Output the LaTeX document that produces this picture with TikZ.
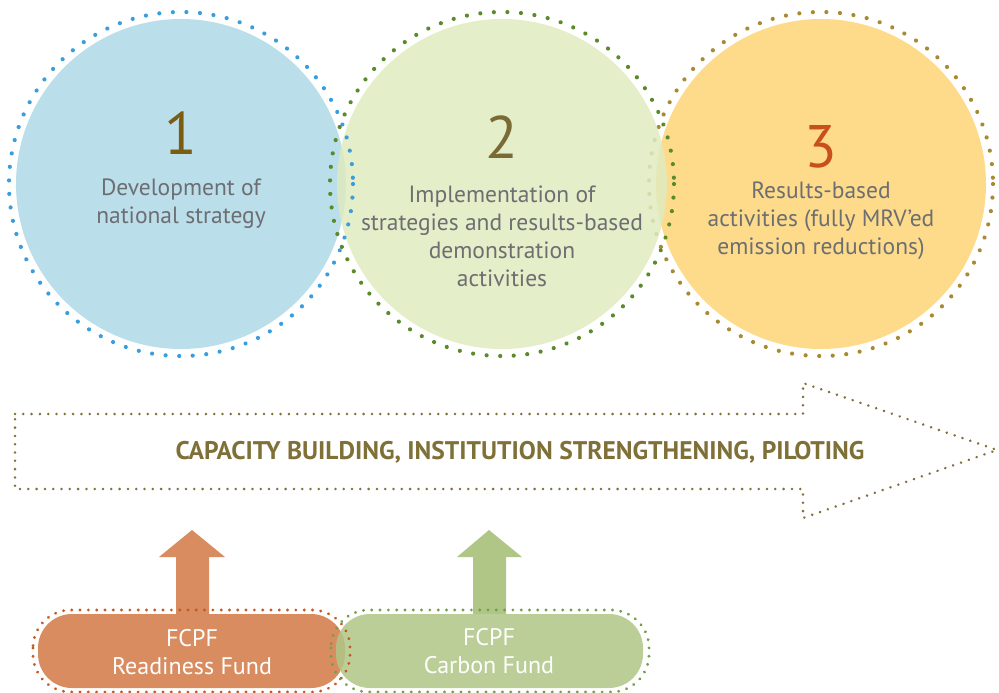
\documentclass[tikz,border=0pt]{standalone}
\usepackage{fontspec}
\setmainfont{PT Sans}
\usetikzlibrary{decorations.markings}
\definecolor{fillA}{HTML}{B7DCEA}
\definecolor{ringA}{HTML}{3A9DDD}
\definecolor{fillB}{HTML}{DFEBBE}
\definecolor{ringB}{HTML}{5A8A2A}
\definecolor{fillC}{HTML}{FDDB8B}
\definecolor{ringC}{HTML}{A88A32}
\definecolor{numA}{HTML}{7A5C12}
\definecolor{numB}{HTML}{7A6A35}
\definecolor{numC}{HTML}{C8501E}
\definecolor{txtgray}{HTML}{6D6E71}
\definecolor{olive}{HTML}{7F7038}
\definecolor{orangeF}{HTML}{D88C60}
\definecolor{orangeD}{HTML}{C4581E}
\definecolor{greenF}{HTML}{B0C686}
\definecolor{greenD}{HTML}{72A04A}
\tikzset{
  x=1pt, y=-1pt,
  ring/.style={decorate, decoration={markings, mark=between positions 0 and 0.995 step 13.6pt with {\fill[#1] circle[radius=2.1pt];}}},
  fineDots/.style={decorate, decoration={markings, mark=between positions 0 and 0.999 step 8.3pt with {\fill[#1] circle[radius=1.4pt];}}},
  boxDots/.style={decorate, decoration={markings, mark=between positions 0 and 0.999 step 8.3pt with {\fill[#1] circle[radius=1.6pt];}}},
  numtxt/.style={font=\fontsize{60}{60}\selectfont},
  circtxt/.style={font=\fontsize{23.5}{28}\selectfont, text=txtgray, align=center, inner sep=0pt},
  fundtxt/.style={font=\fontsize{24}{28}\selectfont, text=white, align=center, inner sep=0pt},
}
\begin{document}
\begin{tikzpicture}
\useasboundingbox (0,0) rectangle (999,693);
% circles
\fill[fillC] (821,184) circle[radius=165];
\path[ring=ringC] (821,184) circle[radius=172];
\fill[fillA, fill opacity=0.95] (181,184) circle[radius=165];
\fill[fillB, fill opacity=0.85] (502,184) circle[radius=165];
\path[ring=ringA] (181,184) circle[radius=172];
\path[ring=ringB] (502,184) circle[radius=172];
\node[numtxt, text=numA] (n1) at (181,133) {1};
\node[numtxt, text=numB] (n2) at (502,137) {2};
\node[numtxt, text=numC] (n3) at (821,147) {3};
\node[circtxt] (t1) at (181,204) {Development of\\national strategy};
\node[circtxt] (t2) at (502,236) {Implementation of\\strategies and results-based\\demonstration\\activities};
\node[circtxt] (t3) at (821,221) {Results-based\\activities (fully MRV’ed\\emission reductions)};
% big arrow
\path[fineDots=olive] (15,414) -- (803,414) -- (803,383) -- (997,450) -- (803,518) -- (803,489) -- (15,489) -- cycle;
\node[font=\bfseries\fontsize{25.5}{28}\selectfont, text=olive] (cap) at (520,452) {CAPACITY BUILDING, INSTITUTION STRENGTHENING, PILOTING};
% fund arrows
\fill[orangeF] (176,614) -- (176,557) -- (159,557) -- (192,530) -- (225,557) -- (209,557) -- (209,614) -- cycle;
\fill[greenF] (473,614) -- (473,557) -- (457,557) -- (489,530) -- (522,557) -- (506,557) -- (506,614) -- cycle;
% fund boxes
\fill[orangeF, rounded corners=34pt] (38,614) rectangle (345,688);
\fill[greenF, fill opacity=0.85, rounded corners=34pt] (336,614) rectangle (643,688);
\path[boxDots=orangeD, rounded corners=38pt] (33,610) rectangle (350,692);
\path[boxDots=greenD, rounded corners=38pt] (331,610) rectangle (649,692);
\node[fundtxt] (f1) at (192,652) {FCPF\\Readiness Fund};
\node[fundtxt] (f2) at (489,651) {FCPF\\Carbon Fund};
\end{tikzpicture}
\end{document}
